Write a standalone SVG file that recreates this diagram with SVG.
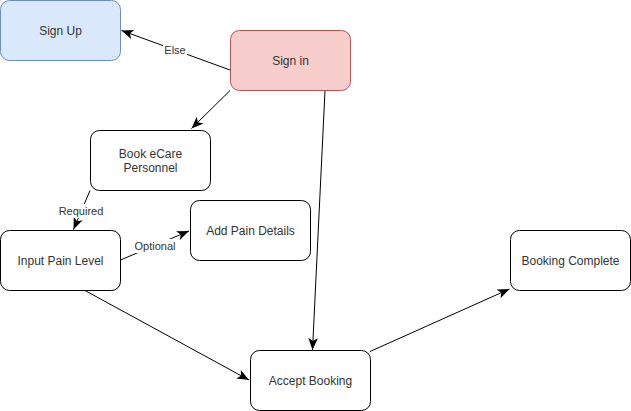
<svg xmlns="http://www.w3.org/2000/svg" width="631" height="411" viewBox="0 0 631 411">
<style>
.node rect{fill:#fff;stroke:#000;stroke-width:1}
.node text{font-family:"Liberation Sans",Arial,sans-serif;font-size:12px;fill:#333;text-anchor:middle}
.edge{fill:none;stroke:#000;stroke-width:1}
.lbl{font-family:"Liberation Sans",Arial,sans-serif;font-size:11px;fill:#333;text-anchor:middle}
.lblbg{fill:#fff}
</style>
<defs>
<marker id="arr" markerUnits="userSpaceOnUse" markerWidth="12" markerHeight="12" viewBox="0 0 10 10" refX="10" refY="5" orient="auto">
<path d="M0,1 L10,5 L0,9 L2.5,5 Z" fill="#000"/>
</marker>
</defs>
<rect width="631" height="411" fill="#fff"/>
<g id="connectors">
<path class="edge" d="M230,70 L121.5,30.5" marker-end="url(#arr)"/>
<path class="edge" d="M230,90.5 L191.5,128.5" marker-end="url(#arr)"/>
<path class="edge" d="M90,190.5 L73.5,229.5" marker-end="url(#arr)"/>
<path class="edge" d="M120.5,260 L189,231" marker-end="url(#arr)"/>
<path class="edge" d="M85,290.5 L249,380" marker-end="url(#arr)"/>
<path class="edge" d="M325,90.5 L312.5,350" marker-end="url(#arr)"/>
<path class="edge" d="M370,351.5 L509.5,289" marker-end="url(#arr)"/>
<rect class="lblbg" x="163" y="43" width="24" height="14"/>
<text class="lbl" x="175" y="54">Else</text>
<rect class="lblbg" x="58" y="204" width="46" height="14"/>
<text class="lbl" x="81" y="215">Required</text>
<rect class="lblbg" x="133" y="239" width="44" height="14"/>
<text class="lbl" x="155" y="250">Optional</text>
</g>
<g id="signup" class="node">
<rect x="0.5" y="0.5" width="120" height="60" rx="9" style="fill:#dae8fc;stroke:#6c8ebf"/>
<text x="60.5" y="35">Sign Up</text>
</g>
<g id="signin" class="node">
<rect x="230.5" y="30.5" width="120" height="60" rx="9" style="fill:#f8cecc;stroke:#b85450"/>
<text x="290.5" y="65">Sign in</text>
</g>
<g id="book" class="node">
<rect x="90.5" y="130.5" width="120" height="60" rx="9"/>
<text x="150.5" y="158">Book eCare</text>
<text x="150.5" y="172">Personnel</text>
</g>
<g id="inputpain" class="node">
<rect x="0.5" y="230.5" width="120" height="60" rx="9"/>
<text x="60.5" y="265">Input Pain Level</text>
</g>
<g id="addpain" class="node">
<rect x="190.5" y="200.5" width="120" height="60" rx="9"/>
<text x="250.5" y="235">Add Pain Details</text>
</g>
<g id="complete" class="node">
<rect x="510.5" y="230.5" width="120" height="60" rx="9"/>
<text x="570.5" y="265">Booking Complete</text>
</g>
<g id="accept" class="node">
<rect x="250.5" y="350.5" width="120" height="60" rx="9"/>
<text x="310.5" y="385">Accept Booking</text>
</g>
</svg>
